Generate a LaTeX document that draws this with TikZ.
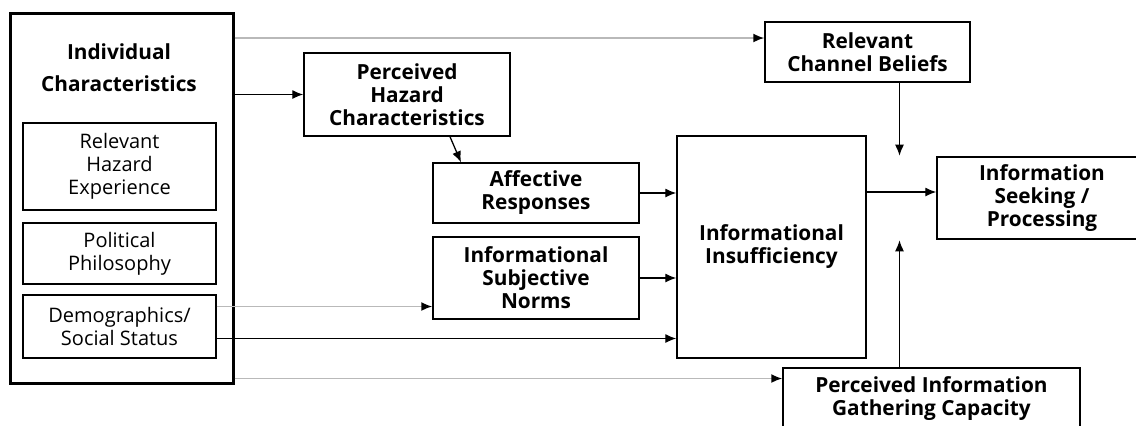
\documentclass[tikz,border=0pt]{standalone}
\usepackage{fontspec}
\setmainfont{Open Sans}
\usetikzlibrary{arrows.meta}

\begin{document}
\begin{tikzpicture}[
    x=0.5pt, y=-0.5pt,
    >={Latex[length=5.5pt,width=4.5pt]},
    box/.style={draw, line width=0.7pt, align=center, inner sep=0pt,
                font=\fontsize{10.4}{11.5}\selectfont\bfseries},
    subbox/.style={box, font=\fontsize{10}{11.5}\selectfont},
    outer/.style={draw, line width=1.5pt, inner sep=0pt},
    arrow/.style={->, line width=0.65pt},
    greyarrow/.style={-{Latex[length=5.5pt,width=4.5pt,color=black]}, line width=0.9pt, draw=gray!55}
]
    \useasboundingbox (0,0) rectangle (1136,425);
    \clip (0,0) rectangle (1136,425);

    % Individual characteristics
    \node[outer, minimum width=111.5pt, minimum height=185pt] (indiv) at (121.5,198) {};
    \node[align=center, font=\fontsize{10.4}{16}\selectfont\bfseries] (indivlabel) at (119,68)
        {Individual\\Characteristics};
    \node[subbox, minimum width=96.5pt, minimum height=43.5pt] (rhe) at (119.5,166.5)
        {Relevant\\Hazard\\Experience};
    \node[subbox, minimum width=96.5pt, minimum height=30.5pt] (pp) at (119.5,253.5)
        {Political\\Philosophy};
    \node[subbox, minimum width=96.5pt, minimum height=31.5pt] (demo) at (119.5,326.5)
        {Demographics/\\Social Status};

    % Middle column
    \node[box, minimum width=103pt, minimum height=41.5pt] (phc) at (407,94.5)
        {Perceived\\Hazard\\Characteristics};
    \node[box, minimum width=103pt, minimum height=30pt] (ar) at (536,193)
        {Affective\\Responses};
    \node[box, minimum width=103pt, minimum height=41pt] (isn) at (536,278)
        {Informational\\Subjective\\Norms};
    \node[box, minimum width=94.5pt, minimum height=111pt] (insuf) at (771.5,247)
        {Informational\\Insufficiency};

    % Right column
    \node[box, minimum width=102.5pt, minimum height=30pt] (rcb) at (867.5,52)
        {Relevant\\Channel Beliefs};
    \node[box, minimum width=105pt, minimum height=41pt] (isp) at (1042,198)
        {Information\\Seeking /\\Processing};
    \node[box, minimum width=148.5pt, minimum height=31pt] (pigc) at (931.5,399)
        {Perceived Information\\Gathering Capacity};

    % Helper points
    \coordinate (c1) at ([yshift=7pt]rcb.west);
    \coordinate (c2) at ([yshift=10pt]demo.east);
    \coordinate (c3) at ([yshift=-6pt]demo.east);
    \coordinate (c4) at ([yshift=3pt]indiv.south east);
    \coordinate (c5) at ([yshift=3pt]isp.west);

    % Connectors
    \draw[greyarrow] (indiv.east |- c1) -- (c1);
    \draw[arrow] (indiv.east |- phc.west) -- (phc.west);
    \draw[arrow] ([xshift=21.5pt]phc.south) -- ([xshift=-37.5pt]ar.north);
    \draw[greyarrow] (c2) -- (c2 -| isn.west);
    \draw[arrow] (c3) -- (c3 -| insuf.west);
    \draw[greyarrow] (c4) -- (c4 -| pigc.west);
    \draw[arrow] (ar.east) -- (ar.east -| insuf.west);
    \draw[arrow] (isn.east) -- (isn.east -| insuf.west);
    \draw[arrow] (insuf.east |- c5) -- (c5);
    \draw[arrow] ([xshift=16pt]rcb.south) -- ++(0,-36.5pt);
    \draw[arrow] ([xshift=-16pt]pigc.north) -- ++(0,63.5pt);
\end{tikzpicture}
\end{document}
